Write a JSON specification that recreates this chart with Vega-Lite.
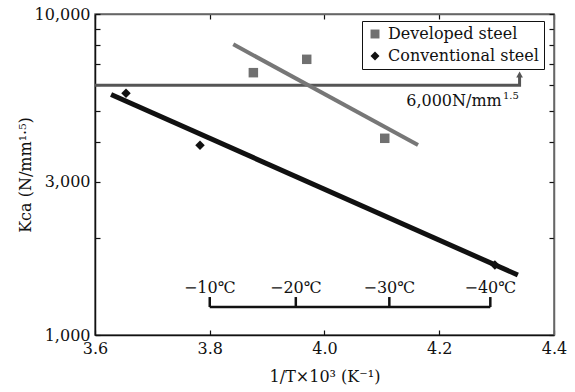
{
  "$schema": "https://vega.github.io/schema/vega-lite/v6.json",
  "width": 459,
  "height": 321,
  "autosize": {"type": "none"},
  "padding": {"left": 95, "top": 14, "right": 21, "bottom": 57},
  "background": "white",
  "config": {
    "font": "DejaVu Serif",
    "view": {"stroke": "#666", "strokeWidth": 1.5},
    "text": {"font": "DejaVu Serif"},
    "axis": {
      "labelFont": "DejaVu Serif", "titleFont": "DejaVu Serif",
      "labelFontSize": 16, "titleFontSize": 16, "titleFontWeight": "normal",
      "labelColor": "#111", "titleColor": "#111", "domainColor": "#111", "tickColor": "#111",
      "grid": false, "tickSize": -5, "domainWidth": 1.5, "tickWidth": 1.2
    },
    "legend": {"labelFont": "DejaVu Serif"}
  },
  "datasets": {
    "points": [
      {"series": "Developed steel", "x": 3.876, "k": 6565},
      {"series": "Developed steel", "x": 3.969, "k": 7225},
      {"series": "Developed steel", "x": 4.105, "k": 4100},
      {"series": "Conventional steel", "x": 3.654, "k": 5663},
      {"series": "Conventional steel", "x": 3.783, "k": 3899},
      {"series": "Conventional steel", "x": 4.297, "k": 1652}
    ],
    "fits": [
      {"series": "Developed steel", "x": 3.841, "k": 8045},
      {"series": "Developed steel", "x": 4.163, "k": 3908},
      {"series": "Conventional steel", "x": 3.628, "k": 5610},
      {"series": "Conventional steel", "x": 4.337, "k": 1538}
    ],
    "threshold": [
      {"o": 1, "x": 3.6, "k": 6000},
      {"o": 2, "x": 4.34, "k": 6000},
      {"o": 3, "x": 4.34, "k": 6400}
    ],
    "arrowhead": [{"x": 4.34, "k": 6480}],
    "thrlabel": [{"x": 4.309, "k": 5168, "t": "6,000N/mm"}],
    "thrsup": [{"x": 4.311, "k": 5450, "t": "1.5"}],
    "bracket": [
      {"x": 3.8, "k": 1222},
      {"x": 4.289, "k": 1222}
    ],
    "temps": [
      {"x": 3.8, "k": 1222, "k2": 1313, "t": "−10℃"},
      {"x": 3.950, "k": 1222, "k2": 1313, "t": "−20℃"},
      {"x": 4.113, "k": 1222, "k2": 1313, "t": "−30℃"},
      {"x": 4.289, "k": 1222, "k2": 1313, "t": "−40℃"}
    ]
  },
  "layer": [
    {
      "data": {"name": "threshold"},
      "mark": {"type": "line", "color": "#555", "strokeWidth": 3},
      "encoding": {
        "x": {"field": "x", "type": "quantitative", "scale": {"domain": [3.6, 4.4], "nice": false, "zero": false},
              "axis": {"orient": "top", "labels": false, "title": null, "values": [3.6, 3.8, 4.0, 4.2, 4.4], "domainColor": "#666"}},
        "y": {"field": "k", "type": "quantitative", "scale": {"type": "log", "domain": [1000, 10000], "nice": false},
              "axis": {"orient": "right", "labels": false, "title": null, "values": [1000, 2000, 3000, 4000, 5000, 6000, 7000, 8000, 9000, 10000], "domainColor": "#666"}},
        "order": {"field": "o", "type": "quantitative"}
      }
    },
    {
      "data": {"name": "arrowhead"},
      "mark": {"type": "point", "shape": "triangle-up", "filled": true, "color": "#555", "size": 45, "opacity": 1},
      "encoding": {
        "x": {"field": "x", "type": "quantitative", "axis": null},
        "y": {"field": "k", "type": "quantitative", "axis": null}
      }
    },
    {
      "data": {"name": "fits"},
      "transform": [{"filter": "datum.series == 'Developed steel'"}],
      "mark": {"type": "line", "color": "#777", "strokeWidth": 4},
      "encoding": {
        "x": {"field": "x", "type": "quantitative", "axis": null},
        "y": {"field": "k", "type": "quantitative", "axis": null}
      }
    },
    {
      "data": {"name": "fits"},
      "transform": [{"filter": "datum.series == 'Conventional steel'"}],
      "mark": {"type": "line", "color": "#111", "strokeWidth": 5},
      "encoding": {
        "x": {"field": "x", "type": "quantitative", "axis": null},
        "y": {"field": "k", "type": "quantitative", "axis": null}
      }
    },
    {
      "data": {"name": "thrlabel"},
      "mark": {"type": "text", "align": "right", "baseline": "alphabetic", "fontSize": 16, "color": "#111"},
      "encoding": {
        "x": {"field": "x", "type": "quantitative", "axis": null},
        "y": {"field": "k", "type": "quantitative", "axis": null},
        "text": {"field": "t"}
      }
    },
    {
      "data": {"name": "thrsup"},
      "mark": {"type": "text", "align": "left", "baseline": "alphabetic", "fontSize": 10, "color": "#111"},
      "encoding": {
        "x": {"field": "x", "type": "quantitative", "axis": null},
        "y": {"field": "k", "type": "quantitative", "axis": null},
        "text": {"field": "t"}
      }
    },
    {
      "data": {"name": "bracket"},
      "mark": {"type": "line", "color": "#111", "strokeWidth": 2.5},
      "encoding": {
        "x": {"field": "x", "type": "quantitative", "axis": null},
        "y": {"field": "k", "type": "quantitative", "axis": null}
      }
    },
    {
      "data": {"name": "temps"},
      "mark": {"type": "rule", "color": "#111", "strokeWidth": 2.5},
      "encoding": {
        "x": {"field": "x", "type": "quantitative", "axis": null},
        "y": {"field": "k", "type": "quantitative", "axis": null},
        "y2": {"field": "k2"}
      }
    },
    {
      "data": {"name": "temps"},
      "mark": {"type": "text", "align": "center", "baseline": "bottom", "dy": -1, "fontSize": 16, "color": "#111"},
      "encoding": {
        "x": {"field": "x", "type": "quantitative", "axis": null},
        "y": {"field": "k2", "type": "quantitative", "axis": null},
        "text": {"field": "t"}
      }
    },
    {
      "data": {"name": "points"},
      "mark": {"type": "point", "filled": true, "opacity": 1},
      "encoding": {
        "x": {"field": "x", "type": "quantitative",
              "axis": {"orient": "bottom", "title": "1/T×10³ (K⁻¹)", "values": [3.6, 3.8, 4.0, 4.2, 4.4], "format": ".1f", "labelPadding": 10, "titlePadding": 12, "labelFlush": false}},
        "y": {"field": "k", "type": "quantitative",
              "axis": {"orient": "left", "title": "Kca (N/mm¹·⁵)", "values": [1000, 2000, 3000, 4000, 5000, 6000, 7000, 8000, 9000, 10000],
                       "labelExpr": "datum.value == 1000 || datum.value == 3000 || datum.value == 10000 ? format(datum.value, ',') : ''", "labelPadding": 10, "titlePadding": 1, "labelFlush": false}},
        "color": {"field": "series", "type": "nominal",
                  "scale": {"domain": ["Developed steel", "Conventional steel"], "range": ["#707070", "#111111"]},
                  "legend": {"title": null, "orient": "none", "legendX": 267, "legendY": 7, "strokeColor": "#111", "fillColor": "white", "padding": 5, "labelFontSize": 16, "labelColor": "#111", "symbolSize": 80, "rowPadding": 6, "labelOffset": 5, "symbolStrokeWidth": 0}},
        "shape": {"field": "series", "type": "nominal",
                  "scale": {"domain": ["Developed steel", "Conventional steel"], "range": ["square", "diamond"]},
                  "legend": {"title": null, "orient": "none", "legendX": 267, "legendY": 7, "strokeColor": "#111", "fillColor": "white", "padding": 5, "labelFontSize": 16, "labelColor": "#111", "symbolSize": 80, "rowPadding": 6, "labelOffset": 5, "symbolStrokeWidth": 0}},
        "size": {"value": 90}
      }
    }
  ],
  "resolve": {"axis": {"x": "independent", "y": "independent"}}
}
